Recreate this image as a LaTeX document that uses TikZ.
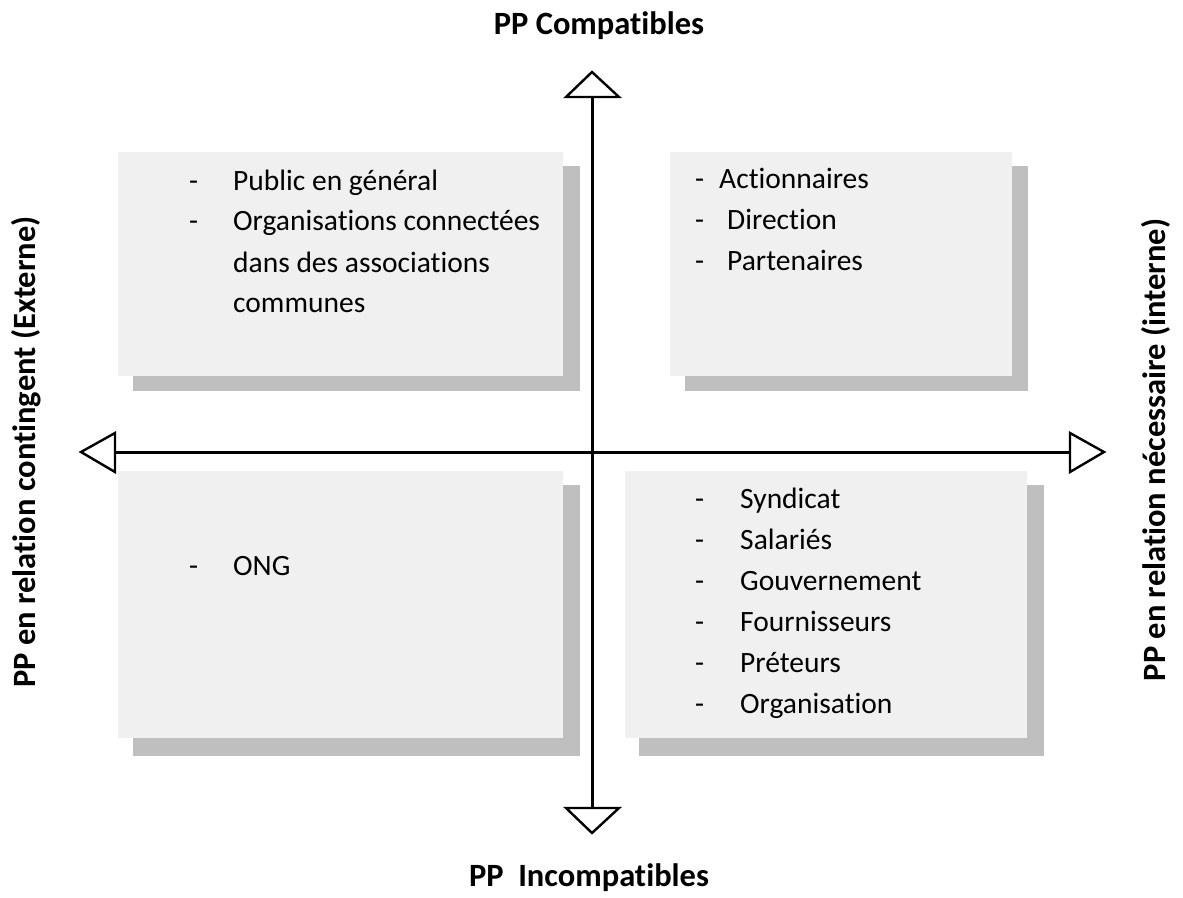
\documentclass[tikz,border=0pt]{standalone}
\usepackage{fontspec}
\setmainfont{Carlito}[Ligatures=NoCommon]
\definecolor{boxgray}{RGB}{240,240,240}
\definecolor{shadowgray}{RGB}{191,191,191}
\tikzset{
  boxfill/.style={fill=boxgray},
  shadowfill/.style={fill=shadowgray},
  axisline/.style={line width=3pt},
  tri/.style={draw=black, fill=white, line width=2.4pt, line join=miter},
  item/.style={anchor=base west, inner sep=0pt, font=\fontsize{29.5}{35}\selectfont},
  heading/.style={anchor=base, inner sep=0pt, font=\fontsize{32.5}{38}\selectfont\bfseries},
}
\begin{document}
\begin{tikzpicture}[x=1pt,y=-1pt]
\useasboundingbox (0,0) rectangle (1183,897);
% boxes with shadows
\fill[shadowfill] (133,166) rectangle (580,391);
\fill[boxfill] (118,152) rectangle (563,376);
\fill[shadowfill] (685,166) rectangle (1028,391);
\fill[boxfill] (670,152) rectangle (1012,376);
\fill[shadowfill] (133,485) rectangle (580,756);
\fill[boxfill] (118,471) rectangle (563,738);
\fill[shadowfill] (639,485) rectangle (1044,756);
\fill[boxfill] (625,471) rectangle (1027,738);
% axes
\coordinate (top) at (592,97);
\coordinate (bot) at (592,808);
\coordinate (lft) at (115,452);
\coordinate (rgt) at (1070,452);
\draw[axisline] (top) -- (bot);
\draw[axisline] (lft) -- (rgt);
\draw[tri] (566,97) -- (592,72) -- (619,97) -- cycle;
\draw[tri] (566,808) -- (592,833) -- (619,808) -- cycle;
\draw[tri] (115,433) -- (81,452) -- (115,472) -- cycle;
\draw[tri] (1070,433) -- (1104,452) -- (1070,472) -- cycle;
% headings
\node[heading] (hc) at (599,34) {PP Compatibles};
\node[heading] (hi) at (589,886) {PP\ \ Incompatibles};
\node[heading, rotate=90] (hl) at (35,452) {PP en relation contingent (Externe)};
\node[heading, rotate=90] (hr) at (1165,450) {PP en relation nécessaire (interne)};
% top-left list
\node[item] (d1) at (189,190) {-};
\node[item] (t1) at (233,190) {Public en général};
\node[item] (d2) at (189,230) {-};
\node[item] (t2) at (233,230) {Organisations connectées};
\node[item] (t3) at (233,272) {dans des associations};
\node[item] (t4) at (233,312) {communes};
% top-right list
\node[item] (d5) at (695,188) {-};
\node[item] (t5) at (719,188) {Actionnaires};
\node[item] (d6) at (695,229) {-};
\node[item] (t6) at (727,229) {Direction};
\node[item] (d7) at (695,270) {-};
\node[item] (t7) at (727,270) {Partenaires};
% bottom-left list
\node[item] (d8) at (189,575) {-};
\node[item] (t8) at (233,575) {ONG};
% bottom-right list
\node[item] (d9) at (695,508) {-};
\node[item] (t9) at (740,508) {Syndicat};
\node[item] (d10) at (695,549) {-};
\node[item] (t10) at (740,549) {Salariés};
\node[item] (d11) at (695,590) {-};
\node[item] (t11) at (740,590) {Gouvernement};
\node[item] (d12) at (695,631) {-};
\node[item] (t12) at (740,631) {Fournisseurs};
\node[item] (d13) at (695,672) {-};
\node[item] (t13) at (740,672) {Préteurs};
\node[item] (d14) at (695,713) {-};
\node[item] (t14) at (740,713) {Organisation};
\end{tikzpicture}
\end{document}
